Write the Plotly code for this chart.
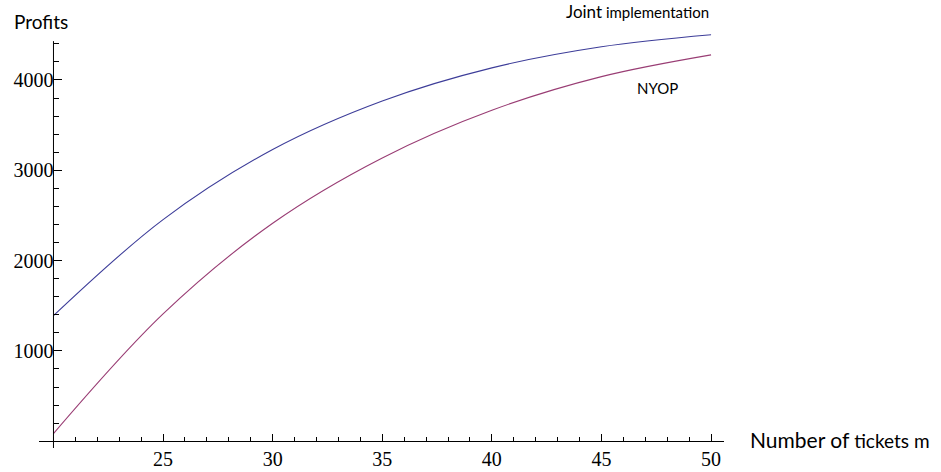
import plotly.graph_objects as go

# Data
tickets = [20, 25, 30, 35, 40, 45, 50]
joint_profit = [1390, 2454, 3230, 3767, 4134, 4367, 4500]
nyop_profit = [85, 1410, 2414, 3137, 3665, 4037, 4278]

x_ticks = [25, 30, 35, 40, 45, 50]
y_ticks = [1000, 2000, 3000, 4000]

x_range = [19.34, 50.59]
y_range = [-75, 4520]

BLUE = "#3d3d99"
PURPLE = "#993d74"
TICK_FONT = dict(family="Liberation Serif", size=20, color="#000")
LABEL_FONT = "Lato"

fig = go.Figure()
fig.add_trace(go.Scatter(x=tickets, y=joint_profit, mode="lines",
                         line=dict(color=BLUE, width=1.1, shape="spline", smoothing=1.0),
                         name="Joint implementation"))
fig.add_trace(go.Scatter(x=tickets, y=nyop_profit, mode="lines",
                         line=dict(color=PURPLE, width=1.1, shape="spline", smoothing=1.0),
                         name="NYOP"))

xpos = (0 - y_range[0]) / (y_range[1] - y_range[0])
ypos = (20 - x_range[0]) / (x_range[1] - x_range[0])

fig.update_layout(
    width=941, height=472,
    margin=dict(l=39, r=217, t=33, b=24),
    paper_bgcolor="white", plot_bgcolor="white",
    showlegend=False,
    xaxis=dict(range=x_range, anchor="free", position=xpos,
               showline=True, linecolor="#000", linewidth=1,
               tickmode="array", tickvals=x_ticks,
               ticks="inside", ticklen=7, tickcolor="#000", tickwidth=1,
               minor=dict(tickmode="linear", tick0=20, dtick=1, ticks="inside",
                          ticklen=4, tickcolor="#000", tickwidth=1),
               showgrid=False, zeroline=False, tickfont=TICK_FONT,
               automargin=False),
    yaxis=dict(range=y_range, anchor="free", position=ypos,
               showline=False,
               tickmode="array", tickvals=y_ticks,
               ticks="inside", ticklen=8, tickcolor="#000", tickwidth=1,
               minor=dict(tickmode="linear", tick0=0, dtick=200, ticks="inside",
                          ticklen=5, tickcolor="#000", tickwidth=1),
               showgrid=False, zeroline=False, tickfont=TICK_FONT,
               automargin=False),
)

# y axis line (stops just above the top tick like the reference)
fig.add_shape(type="line", xref="x", yref="y", x0=20, x1=20, y0=y_range[0], y1=4430,
              line=dict(color="#000", width=1))

fig.add_annotation(text="Profits", xref="paper", yref="paper", x=-0.0394, y=1.027,
                   xanchor="left", yanchor="middle", showarrow=False,
                   font=dict(family=LABEL_FONT, size=19, color="#000"))
fig.add_annotation(text="<span style='font-size:17px'>Joint</span> implementation",
                   xref="paper", yref="paper", x=0.981, y=1.051,
                   xanchor="right", yanchor="middle", showarrow=False,
                   font=dict(family=LABEL_FONT, size=15, color="#000"))
fig.add_annotation(text="NYOP", xref="paper", yref="paper", x=0.9036, y=0.8677,
                   xanchor="center", yanchor="middle", showarrow=False,
                   font=dict(family=LABEL_FONT, size=15, color="#000"))
fig.add_annotation(text="<span style='font-size:21px'>Number of</span> tickets m",
                   xref="paper", yref="paper", x=1.035, y=0.0195,
                   xanchor="left", yanchor="middle", showarrow=False,
                   font=dict(family=LABEL_FONT, size=19, color="#000"))

fig.write_html("out.html",
               config={"displayModeBar": False},
               post_script="document.body.style.margin='0';document.body.style.padding='0';")
